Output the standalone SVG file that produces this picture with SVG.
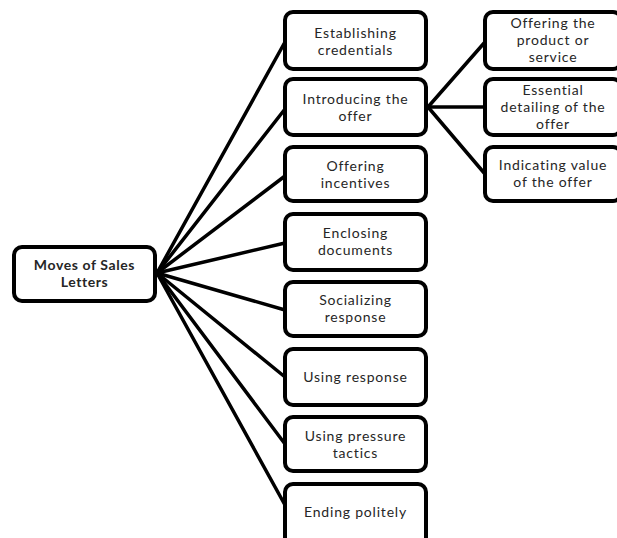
<svg xmlns="http://www.w3.org/2000/svg" width="617" height="538" viewBox="0 0 617 538">
<style>
.box{fill:#fff;stroke:#000;stroke-width:4}
.con{stroke:#000;stroke-width:3.5;fill:none;stroke-linecap:round}
text{font-family:Lato,"Open Sans",sans-serif;font-size:14px;letter-spacing:0.8px;fill:#262626;text-anchor:middle}
.b{font-weight:bold;letter-spacing:0.6px}
</style>
<rect width="617" height="538" fill="#fff"/>
<g id="connectors">
<line class="con" x1="157" y1="273" x2="285" y2="42"/>
<line class="con" x1="157" y1="273" x2="285" y2="109"/>
<line class="con" x1="157" y1="273" x2="285" y2="176"/>
<line class="con" x1="157" y1="273" x2="285" y2="243"/>
<line class="con" x1="157" y1="273" x2="285" y2="310"/>
<line class="con" x1="157" y1="273" x2="285" y2="377"/>
<line class="con" x1="157" y1="273" x2="285" y2="444"/>
<line class="con" x1="157" y1="273" x2="285" y2="505"/>
<line class="con" x1="428" y1="107" x2="485" y2="42"/>
<line class="con" x1="428" y1="107" x2="485" y2="107"/>
<line class="con" x1="428" y1="107" x2="485" y2="174"/>
</g>
<g id="root">
<rect class="box" x="14" y="247" width="141" height="54" rx="8"/>
<text class="b" x="84.5" y="269.5">Moves of Sales<tspan x="84.5" dy="17">Letters</tspan></text>
</g>
<g id="n1">
<rect class="box" x="285" y="12" width="141" height="57" rx="8"/>
<text x="355.5" y="37.5">Establishing<tspan x="355.5" dy="17">credentials</tspan></text>
</g>
<g id="n2">
<rect class="box" x="285" y="79" width="141" height="56" rx="8"/>
<text x="355.5" y="104">Introducing the<tspan x="355.5" dy="17">offer</tspan></text>
</g>
<g id="n3">
<rect class="box" x="285" y="147" width="141" height="54" rx="8"/>
<text x="355.5" y="171">Offering<tspan x="355.5" dy="17">incentives</tspan></text>
</g>
<g id="n4">
<rect class="box" x="285" y="214" width="141" height="56" rx="8"/>
<text x="355.5" y="238">Enclosing<tspan x="355.5" dy="17">documents</tspan></text>
</g>
<g id="n5">
<rect class="box" x="285" y="282" width="141" height="54" rx="8"/>
<text x="355.5" y="305">Socializing<tspan x="355.5" dy="17">response</tspan></text>
</g>
<g id="n6">
<rect class="box" x="285" y="349" width="141" height="56" rx="8"/>
<text x="355.5" y="382">Using response</text>
</g>
<g id="n7">
<rect class="box" x="285" y="417" width="141" height="54" rx="8"/>
<text x="355.5" y="441">Using pressure<tspan x="355.5" dy="17">tactics</tspan></text>
</g>
<g id="n8">
<rect class="box" x="285" y="484" width="141" height="64" rx="8"/>
<text x="355.5" y="517">Ending politely</text>
</g>
<g id="s1">
<rect class="box" x="485" y="12" width="136" height="57" rx="8"/>
<text x="553" y="28">Offering the<tspan x="553" dy="17">product or</tspan><tspan x="553" dy="17">service</tspan></text>
</g>
<g id="s2">
<rect class="box" x="485" y="79" width="136" height="56" rx="8"/>
<text x="553" y="94.5">Essential<tspan x="553" dy="17">detailing of the</tspan><tspan x="553" dy="17">offer</tspan></text>
</g>
<g id="s3">
<rect class="box" x="485" y="147" width="136" height="54" rx="8"/>
<text x="553" y="170">Indicating value<tspan x="553" dy="17">of the offer</tspan></text>
</g>
</svg>
